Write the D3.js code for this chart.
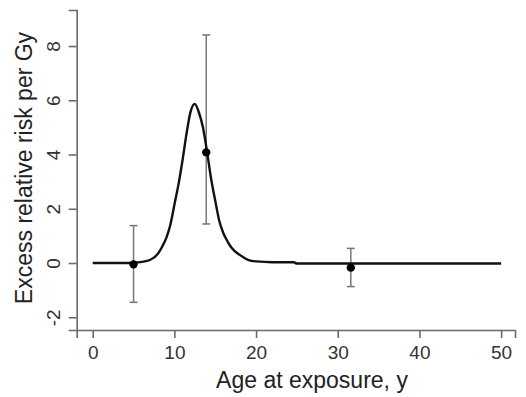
<!DOCTYPE html>
<html>
<head>
<meta charset="utf-8">
<script src="https://cdn.jsdelivr.net/npm/d3@7.9.0/dist/d3.min.js"></script>
<style>
  body { margin: 0; background: #fff; }
  text { font-family: "Liberation Sans", Arial, sans-serif; }
</style>
</head>
<body>
<svg id="chart" width="526" height="397"></svg>
<script>
// fitted curve (age at exposure vs ERR/Gy)
const curveAge = [0, 2, 4, 5, 6, 7, 8, 8.5, 9, 9.5, 10, 10.5, 11, 11.5, 12, 12.5, 13, 13.5, 14, 14.5, 15, 15.5, 16, 16.5, 17, 18, 19, 20, 22, 24.6, 25, 50];
const curveErr = [0, 0, 0, 0.01, 0.04, 0.11, 0.35, 0.6, 0.92, 1.4, 2.15, 2.9, 3.8, 4.8, 5.6, 5.87, 5.55, 5.0, 4.1, 3.1, 2.3, 1.55, 1.1, 0.8, 0.56, 0.3, 0.12, 0.06, 0.03, 0.03, -0.02, -0.02];

// point estimates with confidence intervals
const pointAge = [5, 13.9, 31.6];
const pointErr = [-0.05, 4.08, -0.17];
const pointLow = [-1.45, 1.44, -0.87];
const pointHigh = [1.38, 8.41, 0.54];

const xTicks = [0, 10, 20, 30, 40, 50];
const yTicks = [-2, 0, 2, 4, 6, 8];

const svg = d3.select("#chart");
const axisColor = "#6a6a6a";

const x = d3.scaleLinear().domain([-1.96, 51.7]).range([76.7, 515]);
const y = d3.scaleLinear().domain([-2.47, 9.33]).range([330, 10]);

// x axis
const gx = svg.append("g")
  .attr("transform", "translate(0,330)")
  .call(d3.axisBottom(x).tickValues(xTicks).tickFormat(d => String(d))
    .tickSizeOuter(0).tickSize(8).tickPadding(8));
gx.select(".domain").attr("stroke", axisColor).attr("stroke-width", 1.6);
gx.selectAll(".tick line").attr("stroke", axisColor).attr("stroke-width", 1.6);
gx.selectAll(".tick text").attr("fill", "#333").attr("font-size", 19)
  .attr("font-family", "Liberation Sans, Arial, sans-serif");

// y axis
const gy = svg.append("g")
  .attr("transform", "translate(76.7,0)")
  .call(d3.axisLeft(y).tickValues(yTicks).tickFormat(d => String(d))
    .tickSizeOuter(0).tickSize(8));
gy.select(".domain").attr("stroke", axisColor).attr("stroke-width", 1.6);
gy.selectAll(".tick line").attr("stroke", axisColor).attr("stroke-width", 1.6);
gy.selectAll(".tick text")
  .attr("fill", "#333").attr("font-size", 19)
  .attr("font-family", "Liberation Sans, Arial, sans-serif")
  .attr("x", null).attr("dy", null)
  .attr("text-anchor", "middle")
  .attr("transform", "translate(-17,0) rotate(-90)");

// axis titles
svg.append("text")
  .attr("x", 312).attr("y", 388)
  .attr("text-anchor", "middle")
  .attr("font-size", 23).attr("fill", "#222")
  .text("Age at exposure, y");

svg.append("text")
  .attr("transform", "translate(32,168) rotate(-90)")
  .attr("text-anchor", "middle")
  .attr("font-size", 23).attr("fill", "#222")
  .text("Excess relative risk per Gy");

// error bars
const bars = svg.append("g").attr("stroke", "#777").attr("stroke-width", 1.5);
pointAge.forEach((a, i) => {
  bars.append("line")
    .attr("x1", x(a)).attr("x2", x(a))
    .attr("y1", y(pointLow[i])).attr("y2", y(pointHigh[i]));
  [pointLow[i], pointHigh[i]].forEach(v => {
    bars.append("line")
      .attr("x1", x(a) - 4).attr("x2", x(a) + 4)
      .attr("y1", y(v)).attr("y2", y(v));
  });
});

// fitted curve
const line = d3.line()
  .x((d, i) => x(curveAge[i]))
  .y(d => y(d))
  .curve(d3.curveMonotoneX);

svg.append("path")
  .datum(curveErr)
  .attr("fill", "none")
  .attr("stroke", "#111")
  .attr("stroke-width", 2.4)
  .attr("d", line);

// points
svg.append("g")
  .selectAll("circle")
  .data(pointErr)
  .join("circle")
  .attr("cx", (d, i) => x(pointAge[i]))
  .attr("cy", d => y(d))
  .attr("r", 4.2)
  .attr("fill", "#000");
</script>
</body>
</html>
